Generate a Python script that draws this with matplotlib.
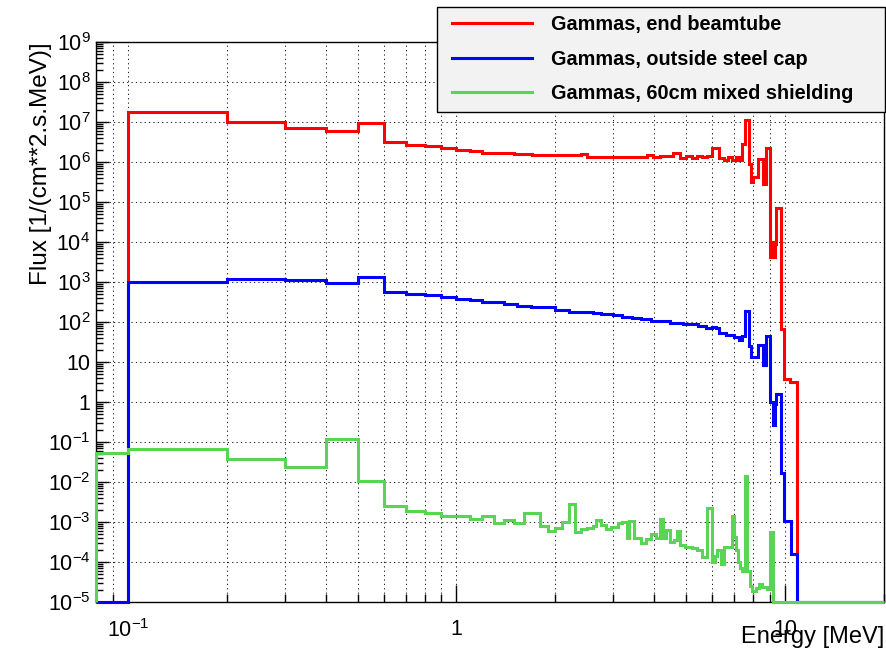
"""Gamma flux spectra at three positions along the beamline (log-log step plot)."""
import numpy as np
import matplotlib

matplotlib.use("Agg")
import matplotlib.pyplot as plt
from matplotlib.legend_handler import HandlerLine2D
from matplotlib.lines import Line2D
from matplotlib.ticker import FuncFormatter, LogLocator, NullFormatter

plt.rcParams["font.family"] = ["Liberation Sans", "DejaVu Sans"]
plt.rcParams["mathtext.fontset"] = "custom"
plt.rcParams["mathtext.rm"] = "Liberation Sans"
plt.rcParams["mathtext.it"] = "Liberation Sans:italic"
plt.rcParams["mathtext.bf"] = "Liberation Sans:bold"

# ── Data: bin edges (MeV) and flux per bin ────────────────────────────

beamtube_edges = [
    0.08, 0.1, 0.2, 0.3, 0.4, 0.5, 0.6, 0.7, 0.8, 0.9, 1.0,
    1.1, 1.2, 1.5, 1.7, 2.4, 2.5, 3.8, 3.95, 4.15, 4.45, 4.55, 4.8, 5.0,
    5.2, 5.4, 5.6, 5.8, 6.0, 6.3, 6.5, 6.7, 6.9, 7.1, 7.25, 7.42, 7.53,
    7.79, 7.85, 8.0, 8.25, 8.54, 8.77, 9.0, 9.1, 9.2, 9.3, 9.4, 9.7, 9.93,
    10.35, 10.9, 20.0,
]
beamtube_flux = [
    0, 1.8e7, 1.0e7, 6.9e6, 5.9e6, 9.3e6, 3.2e6, 2.7e6, 2.5e6, 2.3e6,
    2.0e6, 1.84e6, 1.7e6, 1.6e6, 1.48e6, 1.55e6, 1.36e6, 1.48e6, 1.3e6,
    1.42e6, 1.38e6, 1.65e6, 1.25e6,
    1.42e6, 1.25e6, 1.4e6, 1.3e6, 1.4e6, 2.3e6, 1.25e6, 1.15e6, 1.3e6,
    1.15e6, 1.3e6, 1.1e6, 2.8e6,
    1.14e7, 9e5, 3.1e5, 4.2e5, 1.18e6, 2.8e5, 2.3e6, 4.2e3, 1.0e4, 4.2e3,
    9e3, 7.2e4, 65,
    3.8, 3.2, 0,
]

steelcap_edges = [
    0.08, 0.1, 0.2, 0.3, 0.4, 0.5, 0.6, 0.7, 0.8, 0.9, 1.0,
    1.1, 1.2, 1.4, 1.53, 1.68, 2.0, 2.2, 2.6, 2.76, 3.0,
    3.18, 3.41, 3.65, 3.92, 4.45, 4.88, 5.42, 5.75, 6.0, 6.17,
    6.3, 6.61, 7.0, 7.25, 7.42, 7.53, 7.79, 7.85, 8.25, 8.54,
    8.77, 9.0, 9.2, 9.3, 9.4, 9.7, 9.93, 10.4, 10.9, 20.0,
]
steelcap_flux = [
    0, 1.0e3, 1.2e3, 1.12e3, 950, 1.35e3, 570, 510, 460, 419,
    366, 346, 314, 275, 249, 231, 202, 183, 170, 160,
    148, 137, 127, 116, 103, 95, 87, 79, 72, 75,
    69, 54, 47, 42, 36, 44, 185, 25, 13.5, 27,
    8.3, 44, 1.0, 0.26, 0.9, 1.6, 0.0166, 1.06e-3, 1.6e-4, 0,
]

shielding_edges = [
    0.08, 0.1, 0.2, 0.3, 0.4, 0.5, 0.6, 0.7, 0.8, 0.9, 1.1,
    1.2, 1.3, 1.4, 1.5, 1.6, 1.8, 1.9, 2.0, 2.1, 2.2, 2.3, 2.4, 2.5, 2.6, 2.65,
    2.75, 2.85, 2.95, 3.1, 3.2, 3.3, 3.36, 3.48, 3.65, 3.78, 3.92, 4.05, 4.15, 4.25,
    4.35, 4.45, 4.6, 4.7, 4.8, 4.95, 5.2, 5.4, 5.6, 5.8, 6.0, 6.1, 6.2, 6.4,
    6.5, 6.7, 6.9, 7.0, 7.1, 7.2, 7.3, 7.4, 7.53, 7.65, 7.8, 7.95, 8.15, 8.35,
    8.5, 8.8, 9.0, 9.2, 20.0,
]
shielding_flux = [
    0.054, 0.067, 0.038, 0.024, 0.12, 0.0105, 2.5e-3, 1.9e-3, 1.66e-3, 1.4e-3,
    1.2e-3, 1.4e-3, 9.3e-4, 1.1e-3, 9.3e-4, 1.7e-3, 7.9e-4, 6.0e-4, 7.1e-4,
    1.0e-3, 2.8e-3, 5.5e-4, 6.6e-4, 6.9e-4, 8e-4,
    1.1e-3, 8.5e-4, 6.7e-4, 7.5e-4, 9.4e-4, 1.0e-3, 3.9e-4, 1.05e-3, 3.9e-4,
    3.0e-4, 3.7e-4, 4.9e-4, 3.9e-4, 1.2e-3,
    3.9e-4, 6.3e-4, 3.2e-4, 3.5e-4, 6e-4, 2.6e-4, 2.4e-4, 2.2e-4, 2.0e-4,
    1.35e-4, 2.2e-3, 1.0e-4, 1.4e-4, 2.0e-4,
    9e-5, 2.4e-4, 2.4e-4, 1.4e-3, 4.3e-4, 2e-4, 1e-4, 7e-5, 6e-5, 0.014,
    5.8e-5, 2.5e-5, 1.9e-5, 2.3e-5,
    2.9e-5, 2.4e-5, 2.1e-5, 5.6e-4, 0,
]

series = [
    ("Gammas, end beamtube", beamtube_edges, beamtube_flux, "#ff0000"),
    ("Gammas, outside steel cap", steelcap_edges, steelcap_flux, "#0000ff"),
    ("Gammas, 60cm mixed shielding", shielding_edges, shielding_flux, "#59d454"),
]

XMIN, XMAX = 0.08, 20.0
YMIN, YMAX = 1e-5, 1e9


def _pow10_label(v, pos):
    e = int(round(np.log10(v)))
    if e == 0:
        return "1"
    if e == 1:
        return "10"
    return r"$\mathregular{10^{%d}}$" % e


fig = plt.figure(figsize=(8.87, 6.53), dpi=100)
ax = fig.add_axes([96 / 887, 51 / 653, 788 / 887, 560 / 653])
ax.set_xscale("log")
ax.set_yscale("log")
ax.set_xlim(XMIN, XMAX)
ax.set_ylim(YMIN, YMAX)

# empty bins sit on the lower edge of the frame
handles = []
for label, edges, flux, color in series:
    vals = np.asarray(flux, dtype=float)
    vals = np.where(vals > 0, vals, YMIN)
    ax.stairs(vals, edges, baseline=YMIN, fill=False, color=color,
              linewidth=2.2, joinstyle="miter", clip_on=False, zorder=3)
    handles.append(Line2D([], [], color=color, linewidth=2.2, label=label))

# ticks and grid
ax.xaxis.set_major_locator(LogLocator(base=10))
ax.xaxis.set_minor_locator(LogLocator(base=10, subs=np.arange(2, 10)))
ax.yaxis.set_major_locator(LogLocator(base=10, numticks=30))
ax.yaxis.set_minor_locator(LogLocator(base=10, subs=np.arange(2, 10), numticks=30))
ax.xaxis.set_major_formatter(FuncFormatter(_pow10_label))
ax.yaxis.set_major_formatter(FuncFormatter(_pow10_label))
ax.xaxis.set_minor_formatter(NullFormatter())
ax.yaxis.set_minor_formatter(NullFormatter())

ax.tick_params(axis="both", which="both", direction="in", top=False, right=False,
               width=1.0, color="black", labelsize=15.5)
ax.tick_params(axis="x", which="major", length=12, pad=12)
ax.tick_params(axis="x", which="minor", length=6)
ax.tick_params(axis="y", which="major", length=9.5, pad=4)
ax.tick_params(axis="y", which="minor", length=5)

grid_kw = dict(color="black", linewidth=0.75, linestyle=(0, (1.2, 3)), alpha=0.85)
ax.grid(True, which="major", axis="y", **grid_kw)
ax.grid(True, which="both", axis="x", **grid_kw)
ax.set_axisbelow(True)
for sp in ax.spines.values():
    sp.set_linewidth(1.0)

ax.set_ylabel("Flux [1/(cm**2.s.MeV)]", fontsize=17.5, loc="top")
ax.yaxis.set_label_coords(-0.056, 1.0)
ax.set_xlabel("Energy [MeV]", fontsize=17, loc="right")
ax.xaxis.set_label_coords(1.0, -0.043)

# legend box spans a fixed strip across the top right
leg = fig.legend(handles=handles, loc="upper left", mode="expand",
                 bbox_to_anchor=(437 / 887, 1 - 108 / 653, 448 / 887, 101 / 653),
                 handler_map={Line2D: HandlerLine2D(xpad=0.36)},
                 prop={"weight": "bold", "size": 14.3},
                 frameon=True, fancybox=False, framealpha=1.0,
                 facecolor="#f2f2f2", edgecolor="black",
                 handlelength=4.35, handletextpad=0.95, labelspacing=0.78,
                 borderpad=0.42, borderaxespad=0.0)
leg.get_frame().set_linewidth(1.0)

fig.savefig("out.png", dpi=100)
